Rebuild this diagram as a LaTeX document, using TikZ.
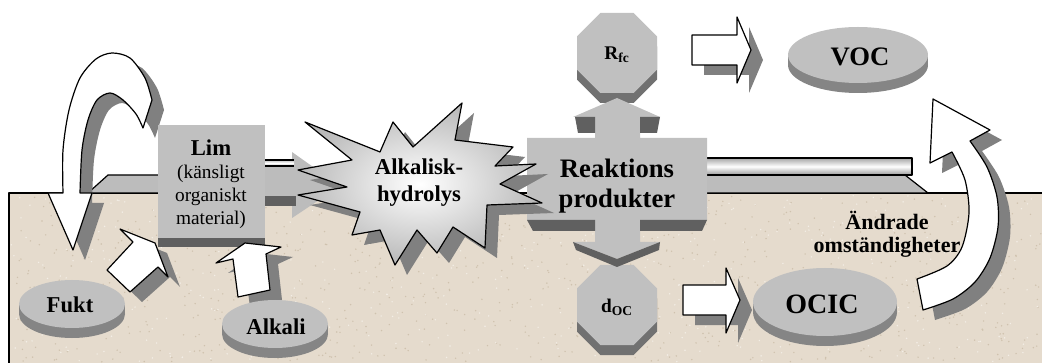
\documentclass[tikz,border=0pt]{standalone}
\usepackage{fontspec}
\setmainfont{Liberation Serif}
\usepackage{xcolor}
\definecolor{cGround}{HTML}{E5DBCD}
\definecolor{cSpeckDark}{HTML}{CFC2AE}
\definecolor{cSpeckLight}{HTML}{F3EEE6}
\definecolor{cFace}{HTML}{C0C0C0}
\definecolor{cSide}{HTML}{606060}
\definecolor{cDisc}{HTML}{858585}
\definecolor{cShadow}{HTML}{808080}
\definecolor{cSlab}{HTML}{BCBCBC}
\usetikzlibrary{calc}
\tikzset{
  outline/.style={draw=black,line width=0.9pt,line join=round},
  block-arrow/.style={outline,fill=white},
  block-shadow/.style={fill=cShadow},
  face/.style={fill=cFace},
  side/.style={fill=cSide},
  txt-big/.style={font=\bfseries\fontsize{20}{22.5}\selectfont,align=center,inner sep=0pt},
  txt-mid/.style={font=\bfseries\fontsize{17}{20}\selectfont,align=center,inner sep=0pt},
  txt-sub/.style={font=\bfseries\fontsize{14.5}{16}\selectfont,inner sep=0pt},
}
% white block arrow with its grey drop shadow
\newcommand\drawshadowed[1]{%
  \fill[block-shadow,shift={(12,10)}] #1;
  \draw[block-arrow] #1;}
% flat 3D disc: centre x, centre y, x radius, y radius
\newcommand\drawdisc[4]{%
  \fill[cDisc] (#1,#2+10) ellipse [x radius=#3,y radius=#4];
  \fill[cDisc] (#1-#3,#2) rectangle (#1+#3,#2+10);
  \fill[face] (#1,#2) ellipse [x radius=#3,y radius=#4];}
% 3D octagon: centre x, centre y
\newcommand\drawocta[2]{%
  \fill[cDisc!85!black,shift={(#1,#2+10)}] (-16.6,-40) -- (16.6,-40) -- (40,-16.6)
    -- (40,16.6) -- (16.6,40) -- (-16.6,40) -- (-40,16.6) -- (-40,-16.6) -- cycle;
  \fill[cDisc!85!black] (#1-40,#2) rectangle (#1+40,#2+20);
  \fill[face,shift={(#1,#2)}] (-16.6,-40) -- (16.6,-40) -- (40,-16.6)
    -- (40,16.6) -- (16.6,40) -- (-16.6,40) -- (-40,16.6) -- (-40,-16.6) -- cycle;}
% outline of the hydrolysis burst
\newcommand\burstpath{(305,122) -- (380,152) -- (393,122)
    -- (413,147) -- (462,103) -- (455,140) -- (513,147) -- (495,166) -- (536,164)
    -- (500,184) -- (542,203) -- (487,205) -- (485,248) -- (453,227) -- (437,253)
    -- (417,230) -- (395,265) -- (380,230) -- (352,235) -- (360,212) -- (298,195)
    -- (347,187) -- (298,170) -- (352,160) -- cycle}

\begin{document}
\begin{tikzpicture}[x=0.75pt,y=-0.75pt]
  \useasboundingbox (0,0) rectangle (1042,363);

  % ground with speckled texture
  \fill[cGround] (9,193) rectangle (1042,363);
  \pgfmathsetseed{12}
  \foreach \i in {1,...,900}{
    \pgfmathsetmacro\px{10+1031*rnd}
    \pgfmathsetmacro\py{195+167*rnd}
    \fill[cSpeckDark] (\px,\py) circle (0.8);
  }
  \foreach \i in {1,...,500}{
    \pgfmathsetmacro\px{10+1031*rnd}
    \pgfmathsetmacro\py{195+167*rnd}
    \fill[cSpeckLight] (\px,\py) circle (0.8);
  }
  \draw[outline] (9,363) -- (9,193) -- (1042,193);

  % pipe on the left, through Lim to the hydrolysis
  \filldraw[outline,fill=cSlab] (88,193) -- (108,175) -- (160,175) -- (160,193) -- cycle;
  \fill[cSlab] (292,152) -- (340,186) -- (292,218) -- cycle;
  \fill[cSlab] (158,166) rectangle (296,196);
  \fill[side] (265,196) rectangle (296,206);
  \shade[top color=cFace,bottom color=cFace,middle color=white] (158,160) rectangle (294,166);
  \draw[outline] (158,160) -- (294,160) (158,166) -- (294,166);

  % pipe on the right
  \filldraw[outline,fill=cSlab] (705,175) -- (905,175) -- (928,193) -- (705,193) -- cycle;
  \shade[top color=gray!70,bottom color=gray!80,middle color=white] (705,158) rectangle (912,175);
  \draw[outline] (705,158) -- (912,158) -- (912,175) -- (705,175);

  % curved arrow over Lim
  \drawshadowed{(48,193) -- (63,193) -- plot[smooth] coordinates {(63,193) (63,150)
    (69,110) (80,78) (96,59) (112,53) (130,58) (145,78) (152,100)} -- (143,128)
    -- plot[smooth] coordinates {(143,128) (136,114) (123,100) (110,93) (97,100)
    (88,120) (82,150) (80,193)} -- (92,193) -- (73,250) -- cycle}

  % Lim box
  \fill[face] (158,125) rectangle (265,238);
  \fill[side] (158,238) rectangle (265,247);

  % arrows from Fukt and Alkali
  \drawshadowed{(120,229) -- (155,243) -- (168,277) -- (158,267) -- (130,292)
    -- (107,270) -- (133,242) -- cycle}
  \drawshadowed{(245,243) -- (281,247) -- (266,254) -- (270,290) -- (238,297)
    -- (233,259) -- (216,263) -- cycle}
  \drawdisc{72}{304}{53}{24}
  \drawdisc{275}{324}{53}{24}

  % Reaktionsprodukter cross with octagons
  \drawocta{617}{53}
  \drawocta{617}{305}
  \fill[face] (617,98) -- (660,117) -- (640,117) -- (640,138) -- (707,138)
    -- (707,220) -- (640,220) -- (640,242) -- (660,242) -- (617,259) -- (573,242)
    -- (595,242) -- (595,220) -- (527,220) -- (527,138) -- (595,138) -- (595,117)
    -- (573,117) -- cycle;
  \fill[side] (575,117) -- (595,117) -- (595,133) -- (578,133) -- cycle;
  \fill[side] (640,117) -- (660,117) -- (657,133) -- (640,133) -- cycle;
  \fill[side] (527,220) -- (595,220) -- (595,231) -- (533,231) -- cycle;
  \fill[side] (640,220) -- (707,220) -- (702,231) -- (640,231) -- cycle;
  \fill[side] (573,242) -- (617,259) -- (660,242) -- (659,250) -- (617,267)
    -- (576,250) -- cycle;

  % hydrolysis burst
  \fill[cShadow,shift={(12,10)}] \burstpath;
  \shade[inner color=white,outer color=gray!55] \burstpath;
  \draw[outline] \burstpath;

  % outputs
  \drawshadowed{(692,35) -- (737,35) -- (737,17) -- (751,50) -- (737,83)
    -- (737,65) -- (692,65) -- cycle}
  \drawshadowed{(683,285) -- (726,285) -- (726,268) -- (740,300) -- (726,333)
    -- (726,315) -- (683,315) -- cycle}
  \drawdisc{858}{55}{70}{28}
  \drawdisc{825}{302}{72}{34}
  \drawshadowed{(933,99) -- (990,130) -- (970,141) -- plot[smooth] coordinates
    {(970,141) (987,167) (997,197) (998,227) (990,258) (975,282) (953,299) (923,310)}
    -- (917,279) -- plot[smooth] coordinates {(917,279) (947,266) (962,247)
    (969,213) (965,180) (952,152)} -- (930,163) -- cycle}

  % texts
  \node[txt-mid,font=\fontsize{14.5}{17.3}\selectfont] (lim) at (211,184)
    {{\bfseries\fontsize{17}{17.3}\selectfont Lim}\\(känsligt\\organiskt\\material)};
  \node[txt-mid,font=\bfseries\fontsize{17}{20.3}\selectfont] (hydro) at (419,183)
    {Alkalisk-\\hydrolys};
  \node[txt-big] (reak) at (617,186) {Reaktions\\produkter};
  \node[txt-sub] (rfc) at (617,55) {R\textsubscript{fc}};
  \node[txt-sub] (doc) at (617,307) {d\textsubscript{OC}};
  \node[txt-mid] (fukt) at (70,305) {Fukt};
  \node[txt-mid] (alkali) at (276,327) {Alkali};
  \node[txt-big] (voc) at (860,57) {VOC};
  \node[txt-big,font=\bfseries\fontsize{21}{23}\selectfont] (ocic) at (822,304) {OCIC};
  \node[txt-mid,font=\bfseries\fontsize{16.5}{17.3}\selectfont] (changed) at (887,234)
    {Ändrade\\omständigheter};
\end{tikzpicture}
\end{document}
